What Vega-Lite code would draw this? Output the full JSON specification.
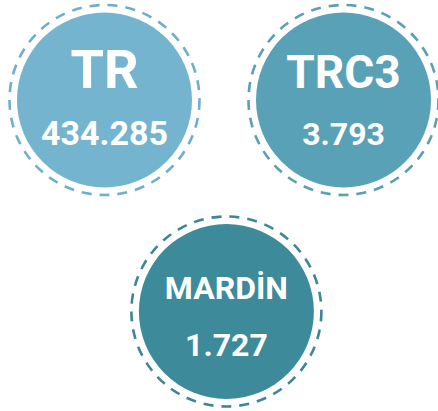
{
  "$schema": "https://vega.github.io/schema/vega-lite/v6.json",
  "width": 438,
  "height": 411,
  "autosize": "none",
  "padding": 0,
  "background": "white",
  "config": {"view": {"stroke": null}},
  "data": {
    "values": [
      {"name": "TR", "value": "434.285", "col": 0, "row": 0},
      {"name": "TRC3", "value": "3.793", "col": 1, "row": 0},
      {"name": "MARDİN", "value": "1.727", "col": 0.51, "row": 1}
    ]
  },
  "encoding": {
    "x": {"field": "col", "type": "quantitative", "scale": {"domain": [-0.4372, 1.3954], "nice": false, "zero": false}, "axis": null},
    "y": {"field": "row", "type": "quantitative", "scale": {"domain": [-0.4728, 1.4705], "nice": false, "zero": false, "reverse": true}, "axis": null}
  },
  "resolve": {"scale": {"size": "independent", "color": "independent"}},
  "layer": [
    {
      "mark": {"type": "point", "shape": "circle", "size": 36100, "filled": false, "opacity": 1, "strokeWidth": 2.6, "strokeDash": [10, 8]},
      "encoding": {
        "color": {"field": "name", "type": "nominal", "scale": {"domain": ["TR", "TRC3", "MARDİN"], "range": ["#6DB0CB", "#5A9FB5", "#3B8796"]}, "legend": null}
      }
    },
    {
      "mark": {"type": "point", "shape": "circle", "size": 30625, "filled": true, "opacity": 1, "strokeWidth": 0},
      "encoding": {
        "color": {"field": "name", "type": "nominal", "scale": {"domain": ["TR", "TRC3", "MARDİN"], "range": ["#74B4CF", "#59A1B7", "#3C8A9A"]}, "legend": null}
      }
    },
    {
      "mark": {"type": "text", "baseline": "alphabetic", "align": "center", "dy": -12, "color": "white", "font": "Roboto", "fontWeight": "bold"},
      "encoding": {
        "text": {"field": "name", "type": "nominal"},
        "size": {"field": "name", "type": "ordinal", "scale": {"type": "ordinal", "domain": ["TR", "TRC3", "MARDİN"], "range": [54, 46, 32]}, "legend": null}
      }
    },
    {
      "mark": {"type": "text", "baseline": "alphabetic", "align": "center", "dy": 45, "color": "white", "font": "Roboto", "fontWeight": "bold"},
      "encoding": {
        "text": {"field": "value", "type": "nominal"},
        "size": {"field": "name", "type": "ordinal", "scale": {"type": "ordinal", "domain": ["TR", "TRC3", "MARDİN"], "range": [34, 32, 32]}, "legend": null}
      }
    }
  ]
}
